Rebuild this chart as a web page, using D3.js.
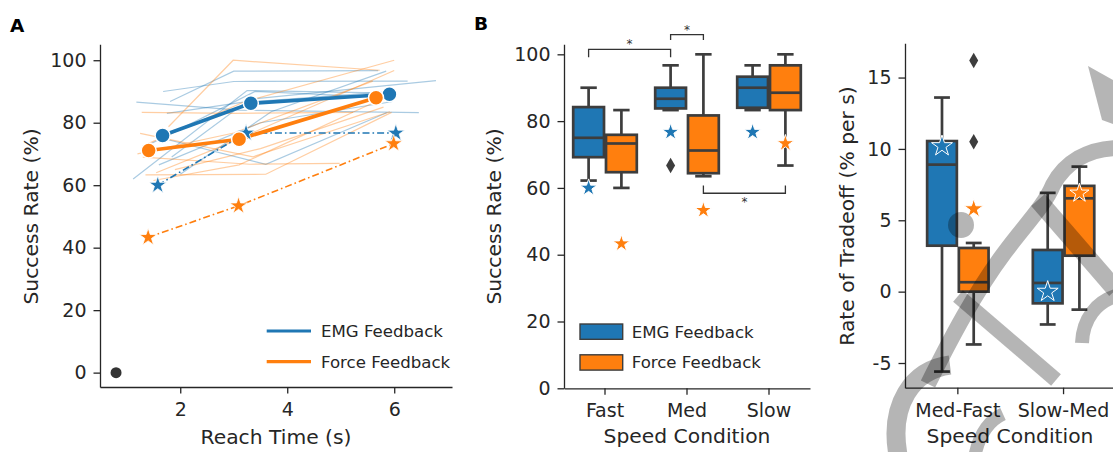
<!DOCTYPE html>
<html>
<head>
<meta charset="utf-8">
<script src="https://cdn.jsdelivr.net/npm/d3@7"></script>
<style>
body { margin: 0; background: #fff; }
text { font-family: "DejaVu Sans", sans-serif; fill: #262626; }
</style>
</head>
<body>
<div id="fig"></div>
<script>
// ---- data ----
var groups = ["EMG Feedback", "Force Feedback"];
var colors = ["#1f77b4", "#ff7f0e"];
var speeds = ["Fast", "Med", "Slow"];
var tradeoffs = ["Med-Fast", "Slow-Med"];

// panel A: each participant as [reach time (s), success (%)] for fast / med / slow
var emgSubjects = [
    [[1.12, 62.0], [3.25, 90.3], [5.95, 89.5]],
    [[1.18, 86.6], [3.10, 84.0], [6.46, 83.2]],
    [[1.68, 90.0], [3.00, 93.2], [6.25, 93.3]],
    [[1.81, 86.8], [3.00, 96.5], [5.70, 96.7]],
    [[1.84, 69.0], [3.30, 87.5], [6.78, 93.5]],
    [[1.55, 75.5], [3.60, 66.7], [5.86, 83.2]],
    [[1.30, 72.0], [3.40, 90.0], [5.90, 88.0]],
    [[2.00, 63.5], [3.70, 83.5], [5.85, 96.5]],
    [[1.75, 83.0], [3.15, 86.5], [6.00, 90.0]],
    [[1.60, 66.5], [3.50, 80.0], [5.95, 86.7]]
];
var forceSubjects = [
    [[1.78, 78.7], [2.99, 100.0], [5.73, 96.8]],
    [[1.28, 83.3], [3.00, 83.0], [5.23, 83.3]],
    [[1.25, 76.6], [3.36, 69.1], [5.92, 83.5]],
    [[1.35, 63.3], [3.60, 63.5], [5.95, 83.3]],
    [[1.50, 61.5], [3.10, 66.5], [5.65, 86.7]],
    [[1.40, 73.3], [3.20, 86.7], [6.00, 100.0]],
    [[1.30, 69.0], [3.30, 66.7], [4.98, 67.0]],
    [[1.55, 64.0], [2.85, 73.0], [6.00, 96.7]],
    [[1.90, 65.0], [3.50, 71.7], [5.80, 85.0]],
    [[1.20, 70.0], [3.00, 76.7], [5.60, 93.3]]
];
var emgMean = [[1.67, 75.9], [3.32, 86.2], [5.91, 89.1]];
var forceMean = [[1.41, 71.1], [3.10, 74.7], [5.66, 88.0]];
var emgStar = [[1.58, 60.0], [3.23, 76.7], [6.03, 76.7]];
var forceStar = [[1.40, 43.3], [3.09, 53.4], [5.99, 73.3]];
var originPoint = [[0.8, 0]];
var reachTicks = [2, 4, 6];
var successTicks = [0, 20, 40, 60, 80, 100];
var tradeoffTicks = [-5, 0, 5, 10, 15];

// panel B: box stats [whisker low, q1, median, q3, whisker high]
var emgBoxB = [[62.2, 69.2, 75.0, 84.2, 90.0], [83.3, 83.8, 86.7, 90.0, 96.7], [83.3, 84.0, 90.0, 93.3, 96.7]];
var forceBoxB = [[60.0, 64.7, 73.3, 75.9, 83.3], [63.5, 64.4, 71.2, 81.7, 100.0], [66.7, 83.3, 88.5, 96.7, 100.0]];
var emgOutB = [[], [66.7], []];
var forceOutB = [[], [], []];
var emgStarB = [60.0, 76.7, 76.7];
var forceStarB = [43.3, 53.3, 73.3];
// [speed, group] -> [speed, group], bar level, tip level, star below?
var sigBrackets = [
    {a: ["Fast", 0], b: ["Med", 0], y: 101.5, tip: 99.1, below: false},
    {a: ["Med", 0], b: ["Med", 1], y: 105.9, tip: 104.3, below: false},
    {a: ["Med", 1], b: ["Slow", 1], y: 58.4, tip: 60.7, below: true}
];

// panel C
var emgBoxC = [[-5.6, 3.22, 8.9, 10.55, 13.6], [-2.3, -0.82, 0.61, 2.92, 6.92]];
var forceBoxC = [[-3.7, 0.0, 0.66, 3.06, 3.41], [-1.26, 2.52, 6.54, 7.41, 8.76]];
var emgOutC = [[], []];
var forceOutC = [[16.2, 10.5], []];
var emgStarC = [10.2, 0.0];
var forceStarC = [5.8, 6.9];

var W = 1113, H = 452;
var edge = "#3d3d3d";
var ink = "#262626";
var tickFont = "19px";
var labelFont = "20.3px";
var legendFont = "16.6px";

var svg = d3.select("#fig").append("svg")
    .attr("width", W)
    .attr("height", H);

function styleAxis(g) {
    g.select(".domain").attr("stroke", ink).attr("stroke-width", 1.3);
    g.selectAll(".tick line").attr("stroke", ink).attr("stroke-width", 1.3);
    g.selectAll("text").style("font-size", tickFont);
}

function starPath(r) {
    return d3.symbol().type(d3.symbolStar).size(r * r / 0.8908130915292852)();
}
function diamondPath(h) {
    return d3.symbol().type(d3.symbolDiamond).size(2 * Math.tan(Math.PI / 6) * h * h)();
}

function yLabel(x, y, label) {
    svg.append("text")
        .attr("transform", "translate(" + x + "," + y + ") rotate(-90)")
        .attr("text-anchor", "middle")
        .attr("dy", "0.35em")
        .style("font-size", labelFont)
        .text(label);
}
function xLabel(x, y, label) {
    svg.append("text")
        .attr("x", x).attr("y", y)
        .attr("text-anchor", "middle")
        .style("font-size", labelFont)
        .text(label);
}

// ================= panel A =================
var xA = d3.scaleLinear().domain([0.5, 7.08]).range([100, 452]);
var yA = d3.scaleLinear().domain([-4.6, 105.1]).range([387, 44.3]);

svg.append("g")
    .attr("transform", "translate(0,387)")
    .call(d3.axisBottom(xA).tickValues(reachTicks).tickFormat(d3.format("d"))
        .tickSize(6.5).tickPadding(9).tickSizeOuter(0))
    .call(styleAxis);
svg.append("g")
    .attr("transform", "translate(100,0)")
    .call(d3.axisLeft(yA).tickValues(successTicks).tickSize(6.5).tickPadding(7).tickSizeOuter(0))
    .call(styleAxis);

var lineA = d3.line().x(function(d) { return xA(d[0]); }).y(function(d) { return yA(d[1]); });

[emgSubjects, forceSubjects].forEach(function(subjects, gi) {
    svg.append("g").selectAll("path")
        .data(subjects)
        .enter().append("path")
        .attr("d", lineA)
        .attr("fill", "none")
        .attr("stroke", colors[gi])
        .attr("stroke-opacity", 0.38)
        .attr("stroke-width", 1.2);
});

// dash-dot lines through the star markers
[emgStar, forceStar].forEach(function(pts, gi) {
    svg.append("path")
        .datum(pts)
        .attr("d", lineA)
        .attr("fill", "none")
        .attr("stroke", colors[gi])
        .attr("stroke-width", 1.6)
        .attr("stroke-dasharray", "7,3,1.6,3");
});

[emgMean, forceMean].forEach(function(pts, gi) {
    svg.append("path")
        .datum(pts)
        .attr("d", lineA)
        .attr("fill", "none")
        .attr("stroke", colors[gi])
        .attr("stroke-width", 3.6);
});

[emgStar, forceStar].forEach(function(pts, gi) {
    svg.append("g").selectAll("path")
        .data(pts)
        .enter().append("path")
        .attr("d", starPath(9.2))
        .attr("transform", function(d) { return "translate(" + xA(d[0]) + "," + yA(d[1]) + ")"; })
        .attr("fill", colors[gi])
        .attr("stroke", "#fff")
        .attr("stroke-width", 0.8);
});

[emgMean, forceMean].forEach(function(pts, gi) {
    svg.append("g").selectAll("circle")
        .data(pts)
        .enter().append("circle")
        .attr("cx", function(d) { return xA(d[0]); })
        .attr("cy", function(d) { return yA(d[1]); })
        .attr("r", 7.5)
        .attr("fill", colors[gi])
        .attr("stroke", "#fff")
        .attr("stroke-width", 1.5);
});

svg.append("g").selectAll("circle")
    .data(originPoint)
    .enter().append("circle")
    .attr("cx", function(d) { return xA(d[0]); })
    .attr("cy", function(d) { return yA(d[1]); })
    .attr("r", 5.5)
    .attr("fill", "#333");

// legend A
groups.forEach(function(name, gi) {
    var ly = 331 + gi * 30.7;
    svg.append("line")
        .attr("x1", 266.7).attr("x2", 311)
        .attr("y1", ly).attr("y2", ly)
        .attr("stroke", colors[gi])
        .attr("stroke-width", 3.2);
    svg.append("text")
        .attr("x", 321).attr("y", ly)
        .attr("dy", "0.36em")
        .style("font-size", legendFont)
        .text(name);
});

yLabel(31, 216.5, "Success Rate (%)");
xLabel(276, 444, "Reach Time (s)");
svg.append("text").attr("x", 10).attr("y", 31.7)
    .style("font-size", "18.5px").style("font-weight", "bold").style("fill", "#000").text("A");

// ================= box plot helper =================
function boxCenter(xs, cat, gi, widthFrac) {
    var bw = xs.bandwidth() * widthFrac;
    return xs(cat) + xs.bandwidth() / 2 + (gi === 0 ? -bw / 2 : bw / 2);
}

function drawBoxes(xs, ys, cats, boxes, outs, stars, gi, widthFrac, starR) {
    var bw = xs.bandwidth() * widthFrac;
    var g = svg.append("g");
    cats.forEach(function(cat, i) {
        var cx = boxCenter(xs, cat, gi, widthFrac);
        var s = boxes[i];
        var half = bw / 2 - 1;
        g.append("line").attr("x1", cx).attr("x2", cx).attr("y1", ys(s[0])).attr("y2", ys(s[1]))
            .attr("stroke", edge).attr("stroke-width", 2.7);
        g.append("line").attr("x1", cx).attr("x2", cx).attr("y1", ys(s[3])).attr("y2", ys(s[4]))
            .attr("stroke", edge).attr("stroke-width", 2.7);
        [s[0], s[4]].forEach(function(v) {
            g.append("line").attr("x1", cx - bw / 4).attr("x2", cx + bw / 4).attr("y1", ys(v)).attr("y2", ys(v))
                .attr("stroke", edge).attr("stroke-width", 2.7);
        });
        g.append("rect")
            .attr("x", cx - half).attr("width", 2 * half)
            .attr("y", ys(s[3])).attr("height", ys(s[1]) - ys(s[3]))
            .attr("fill", colors[gi])
            .attr("stroke", edge).attr("stroke-width", 2.7);
        g.append("line").attr("x1", cx - half).attr("x2", cx + half).attr("y1", ys(s[2])).attr("y2", ys(s[2]))
            .attr("stroke", edge).attr("stroke-width", 2.7);
        outs[i].forEach(function(v) {
            g.append("path").attr("d", diamondPath(7.8))
                .attr("transform", "translate(" + cx + "," + ys(v) + ")")
                .attr("fill", edge);
        });
        g.append("path").attr("d", starPath(starR))
            .attr("transform", "translate(" + cx + "," + ys(stars[i]) + ")")
            .attr("fill", colors[gi])
            .attr("stroke", "#fff")
            .attr("stroke-width", 1);
    });
}

// ================= panel B =================
var xB = d3.scaleBand().domain(speeds).range([564, 810]);
var yB = d3.scaleLinear().domain([0, 103]).range([388.3, 44.3]);

svg.append("g")
    .attr("transform", "translate(0,388.3)")
    .call(d3.axisBottom(xB).tickSize(6.5).tickPadding(9).tickSizeOuter(0))
    .call(styleAxis);
svg.append("g")
    .attr("transform", "translate(564,0)")
    .call(d3.axisLeft(yB).tickValues(successTicks).tickSize(6.5).tickPadding(7).tickSizeOuter(0))
    .call(styleAxis);

drawBoxes(xB, yB, speeds, emgBoxB, emgOutB, emgStarB, 0, 0.4, 9);
drawBoxes(xB, yB, speeds, forceBoxB, forceOutB, forceStarB, 1, 0.4, 9);

sigBrackets.forEach(function(b) {
    var x1 = boxCenter(xB, b.a[0], b.a[1], 0.4);
    var x2 = boxCenter(xB, b.b[0], b.b[1], 0.4);
    svg.append("path")
        .attr("d", "M" + x1 + "," + yB(b.tip) + "V" + yB(b.y) + "H" + x2 + "V" + yB(b.tip))
        .attr("fill", "none")
        .attr("stroke", "#333")
        .attr("stroke-width", 1.3);
    svg.append("text")
        .attr("x", (x1 + x2) / 2)
        .attr("y", yB(b.y) + (b.below ? 13 : -1))
        .attr("text-anchor", "middle")
        .style("font-size", "12px")
        .style("fill", "#333")
        .text("*");
});

// legend B
groups.forEach(function(name, gi) {
    var ly = 331.7 + gi * 30.8;
    svg.append("rect")
        .attr("x", 580).attr("y", ly - 7.7)
        .attr("width", 42.7).attr("height", 15.3)
        .attr("fill", colors[gi])
        .attr("stroke", edge).attr("stroke-width", 1.4);
    svg.append("text")
        .attr("x", 631.7).attr("y", ly)
        .attr("dy", "0.36em")
        .style("font-size", legendFont)
        .text(name);
});

yLabel(494, 216.5, "Success Rate (%)");
xLabel(687, 443, "Speed Condition");
svg.append("text").attr("x", 474).attr("y", 30)
    .style("font-size", "18.5px").style("font-weight", "bold").style("fill", "#000").text("B");

// ================= panel C =================
var xC = d3.scaleBand().domain(tradeoffs).range([905, 1116.4]);
var yC = d3.scaleLinear().domain([-6.73, 17.4]).range([387.7, 43.3]);

svg.append("g")
    .attr("transform", "translate(0,387.7)")
    .call(d3.axisBottom(xC).tickSize(6.5).tickPadding(9).tickSizeOuter(0))
    .call(styleAxis);
svg.append("g")
    .attr("transform", "translate(905,0)")
    .call(d3.axisLeft(yC).tickValues(tradeoffTicks).tickFormat(function(d) { return String(d); })
        .tickSize(6.5).tickPadding(7).tickSizeOuter(0))
    .call(styleAxis);

drawBoxes(xC, yC, tradeoffs, emgBoxC, emgOutC, emgStarC, 0, 0.3, 11);
drawBoxes(xC, yC, tradeoffs, forceBoxC, forceOutC, forceStarC, 1, 0.3, 10);

yLabel(847, 216, "Rate of Tradeoff (% per s)");
xLabel(1010, 443, "Speed Condition");

// grey watermark lying over the right panel in the source image
var mark = svg.append("g").attr("fill", "none").attr("stroke", "#000").attr("stroke-opacity", 0.29);
mark.append("path").attr("d", "M 898 455 C 889 405, 912 370, 950 365").attr("stroke-width", 19);
mark.append("path").attr("d", "M 928 384 C 950 340, 975 292, 1005 252 C 1025 225, 1045 205, 1053 185 C 1065 162, 1088 149, 1116 148").attr("stroke-width", 16);
mark.append("path").attr("d", "M 958 296 L 1056 380").attr("stroke-width", 15);
mark.append("path").attr("d", "M 1038 200 L 1116 290").attr("stroke-width", 18);
mark.append("path").attr("d", "M 975 455 C 980 432, 990 420, 1003 414").attr("stroke-width", 13);
mark.append("path").attr("d", "M 1082 343 C 1083 318, 1097 302, 1116 296").attr("stroke-width", 14);
svg.append("path").attr("d", "M 1088 66 L 1113 80 L 1113 124 L 1102 120 Z").attr("fill", "#000").attr("fill-opacity", 0.29);
svg.append("circle").attr("cx", 961).attr("cy", 225).attr("r", 13).attr("fill", "#000").attr("fill-opacity", 0.29);
</script>
</body>
</html>
